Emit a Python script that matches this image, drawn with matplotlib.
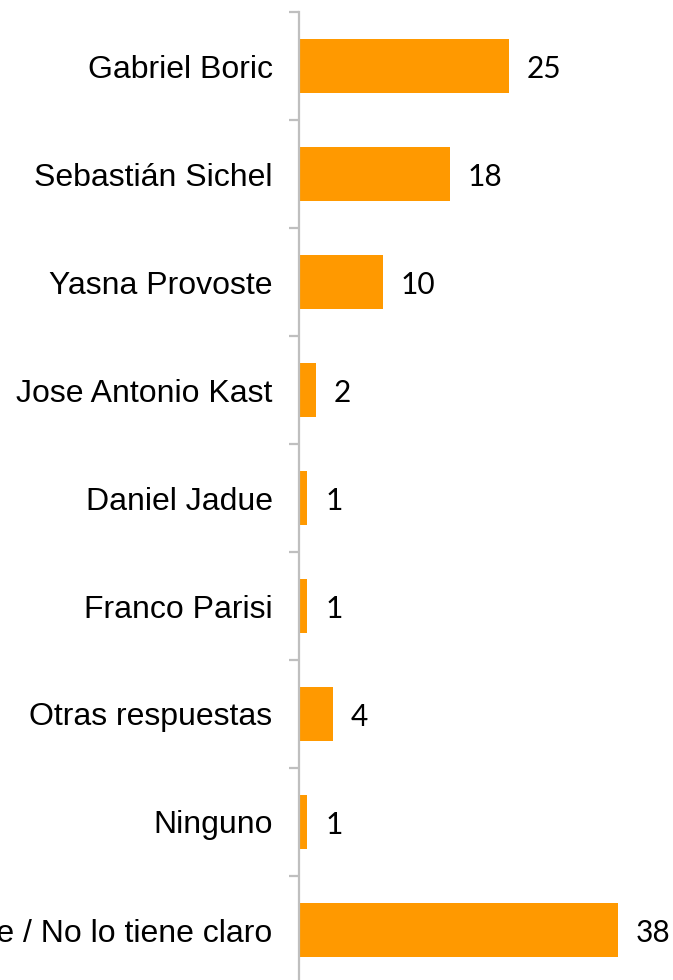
import matplotlib
matplotlib.use("Agg")
import matplotlib.pyplot as plt
import numpy as np

categories = ["Gabriel Boric", "Sebastián Sichel", "Yasna Provoste", "Jose Antonio Kast",
              "Daniel Jadue", "Franco Parisi", "Otras respuestas", "Ninguno",
              "No sabe / No lo tiene claro"]
values = [25, 18, 10, 2, 1, 1, 4, 1, 38]

W, H = 673, 980
fig = plt.figure(figsize=(W / 100, H / 100), dpi=100)
left = 299 / W
top = 1 - 12 / H
bottom = 1 - 984 / H
ax = fig.add_axes([left, bottom, 1 - left, top - bottom])

y = np.arange(len(categories))
ax.barh(y, values, height=0.5, color="#FF9900", zorder=2)
ax.set_ylim(len(categories) - 0.5, -0.5)
ax.set_xlim(0, 374 / 8.4)

for s in ["top", "right", "bottom"]:
    ax.spines[s].set_visible(False)
ax.spines["left"].set_color("#BFBFBF")
ax.spines["left"].set_linewidth(1.6)

ax.set_xticks([])
ax.set_yticks(y)
ax.set_yticklabels(categories, fontfamily="Liberation Sans", fontsize=23)
ax.tick_params(axis="y", which="major", length=0, pad=19)
ax.set_yticks(np.arange(-0.5, len(categories), 1.0), minor=True)
ax.tick_params(axis="y", which="minor", length=7, width=1.6, color="#BFBFBF", direction="out")

for yi, v in zip(y, values):
    ax.text(v + 2.1, yi + 0.03, str(v), va="center", ha="left",
            fontfamily="Lato", fontsize=21.5, color="black")

fig.savefig("out.png", dpi=100)
